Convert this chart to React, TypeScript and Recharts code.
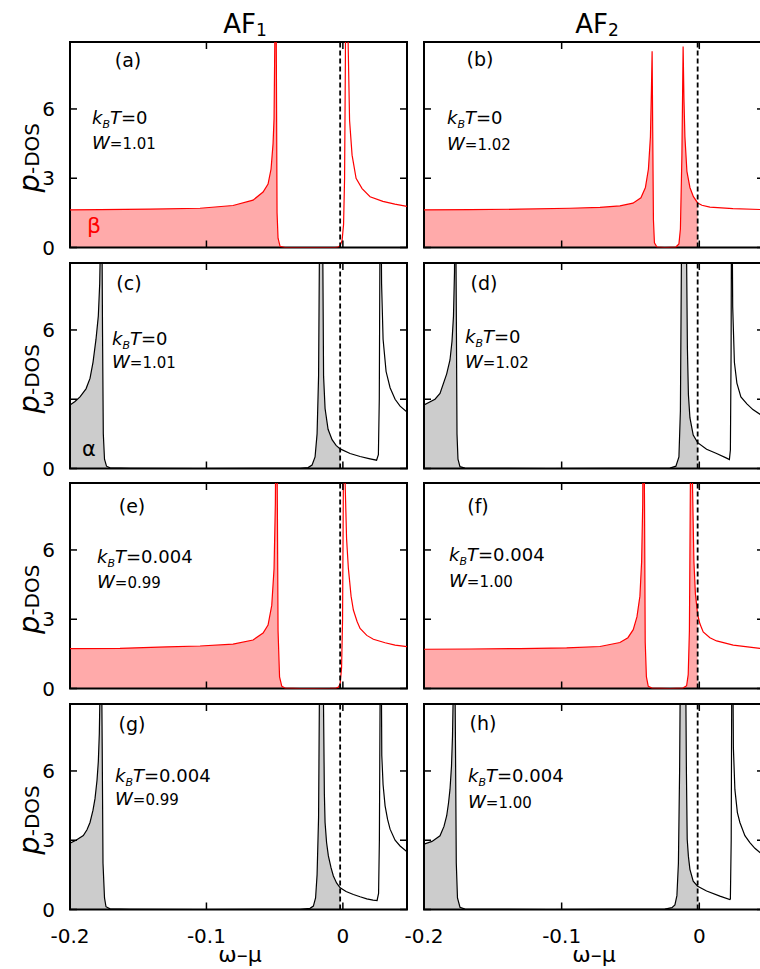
import React from "react";
import {
  Area,
  ComposedChart,
  Line,
  ReferenceArea,
  ReferenceLine,
  XAxis,
  YAxis,
} from "recharts";

const FONT = "'DejaVu Sans', Verdana, sans-serif";

// axes
const X_DOMAIN: [number, number] = [-0.2, 0.047];
const Y_DOMAIN: [number, number] = [0, 8.9];
const X_TICKS = [-0.2, -0.1, 0];
const Y_TICKS = [0, 3, 6];

// chemical potential (dashed line) for each column
const EF_AF1 = -0.002;
const EF_AF2 = -0.0012;

// (a) beta, AF1, kBT = 0
const OMEGA_A = [-0.2, -0.178, -0.14135, -0.10469, -0.0805, -0.06584, -0.0585, -0.05484, -0.05264, -0.05117, -0.05044, -0.0497, -0.04927, -0.04875, -0.04824, -0.04751, -0.04604, -0.04238, -0.02, -0.00572, -0.00352, -0.002, -0.00059, 0.00051, 0.00125, 0.00183, 0.00235, 0.00381, 0.00491, 0.00675, 0.00968, 0.01408, 0.01994, 0.0293, 0.0381, 0.047];
const DOS_A = [1.63, 1.64, 1.66, 1.7, 1.82, 2.05, 2.4, 2.75, 3.4, 4.5, 5.6, 10, 14, 8, 1.5, 0.4, 0.05, 0, 0, 0, 0.02, 0.08, 0.3, 1.0, 3, 8, 14, 9, 5.5, 4.0, 3.0, 2.55, 2.2, 2.0, 1.88, 1.78];

// (b) beta, AF2, kBT = 0
const OMEGA_B = [-0.2, -0.16659, -0.13028, -0.09397, -0.07219, -0.05766, -0.04822, -0.04241, -0.03914, -0.03696, -0.03551, -0.03479, -0.03428, -0.03384, -0.03333, -0.0326, -0.03079, -0.02498, -0.01699, -0.01481, -0.01373, -0.01264, -0.01176, -0.01118, -0.01046, -0.009, -0.00682, -0.00428, -0.0012, 0.00189, 0.0077, 0.0244, 0.047];
const DOS_B = [1.63, 1.64, 1.66, 1.7, 1.74, 1.8, 1.92, 2.15, 2.6, 3.4, 4.8, 6.8, 8.5, 5, 1.2, 0.2, 0.02, 0, 0.02, 0.15, 0.8, 4, 8.7, 6.5, 4.8, 3.3, 2.6, 2.2, 1.93, 1.83, 1.75, 1.68, 1.64];

// (c) alpha, AF1, kBT = 0
const OMEGA_C = [-0.2, -0.19633, -0.19267, -0.18827, -0.18534, -0.18314, -0.18094, -0.17925, -0.17823, -0.17749, -0.17691, -0.17617, -0.17559, -0.17471, -0.17324, -0.17067, -0.15601, -0.10469, -0.03138, -0.02551, -0.02258, -0.02038, -0.01891, -0.01781, -0.01723, -0.01635, -0.01474, -0.01415, -0.01305, -0.01085, -0.00792, -0.00499, -0.002, 0.00528, 0.01261, 0.01994, 0.02471, 0.02603, 0.02669, 0.02713, 0.02764, 0.02837, 0.02947, 0.03167, 0.0346, 0.03827, 0.04194, 0.047];
const DOS_C = [2.75, 2.9, 3.1, 3.45, 3.9, 4.6, 5.6, 6.6, 8, 10.5, 14, 6, 1.5, 0.4, 0.1, 0.03, 0.01, 0, 0.01, 0.04, 0.15, 0.5, 1.5, 4, 9, 14, 9.5, 4.0, 2.6, 1.7, 1.25, 1.0, 0.85, 0.65, 0.52, 0.42, 0.36, 0.6, 3, 9, 14, 8, 5.6, 4.2, 3.5, 3.0, 2.7, 2.45];

// (d) alpha, AF2, kBT = 0
const OMEGA_D = [-0.2, -0.19201, -0.18838, -0.18351, -0.18112, -0.17967, -0.17858, -0.17785, -0.17727, -0.17654, -0.17603, -0.17531, -0.17386, -0.17023, -0.1085, -0.02135, -0.01699, -0.01481, -0.01373, -0.013, -0.01155, -0.00937, -0.00864, -0.00791, -0.00682, -0.00443, -0.0012, 0.0053, 0.01256, 0.01983, 0.02186, 0.02258, 0.02309, 0.02353, 0.02426, 0.02549, 0.0273, 0.03021, 0.03457, 0.03893, 0.04401, 0.047];
const DOS_D = [2.75, 3.0, 3.25, 4.1, 4.7, 5.5, 6.6, 8.5, 14, 7, 1.5, 0.4, 0.08, 0.02, 0, 0.02, 0.1, 0.5, 2.5, 9, 14, 10, 5.2, 3.2, 2.2, 1.45, 1.12, 0.83, 0.65, 0.45, 0.39, 0.8, 5, 14, 7, 4.6, 3.7, 3.1, 2.8, 2.55, 2.35, 2.25];

// (e) beta, AF1, kBT = 0.004
const OMEGA_E = [-0.2, -0.16334, -0.12911, -0.10469, -0.0805, -0.06584, -0.0585, -0.05484, -0.05213, -0.05044, -0.04949, -0.04875, -0.04802, -0.04751, -0.04641, -0.04479, -0.04238, -0.03138, -0.00938, -0.00499, -0.00315, -0.002, -0.00095, -0.00022, 0.00037, 0.00088, 0.00161, 0.00271, 0.00403, 0.00601, 0.0077, 0.01041, 0.01261, 0.01752, 0.02236, 0.03094, 0.03827, 0.047];
const DOS_E = [1.73, 1.74, 1.8, 1.84, 1.92, 2.1, 2.4, 2.75, 3.6, 5.2, 8, 14, 8, 2.5, 0.5, 0.1, 0.02, 0, 0.01, 0.02, 0.06, 0.2, 0.9, 3, 9, 14, 9, 6.5, 5.2, 4.0, 3.4, 2.9, 2.6, 2.3, 2.13, 1.98, 1.88, 1.81];

// (f) beta, AF2, kBT = 0.004
const OMEGA_F = [-0.2, -0.16659, -0.13028, -0.09637, -0.07219, -0.05766, -0.05185, -0.048, -0.04531, -0.04314, -0.0419, -0.0411, -0.04052, -0.0398, -0.03929, -0.03842, -0.03711, -0.03442, -0.02135, -0.01191, -0.00922, -0.00806, -0.00719, -0.00646, -0.00573, -0.00501, -0.00392, -0.00283, -0.0012, 0.00044, 0.00283, 0.0077, 0.01256, 0.02462, 0.04401, 0.047];
const DOS_F = [1.7, 1.71, 1.73, 1.76, 1.82, 1.99, 2.2, 2.55, 3.1, 4.0, 5.5, 8, 14, 8, 2, 0.5, 0.1, 0.02, 0, 0.02, 0.12, 0.6, 2.5, 9, 14, 9, 5.5, 4.1, 3.2, 2.8, 2.45, 2.2, 2.06, 1.88, 1.74, 1.73];

// (g) alpha, AF1, kBT = 0.004
const OMEGA_G = [-0.2, -0.1956, -0.19025, -0.18754, -0.18534, -0.18314, -0.18167, -0.1802, -0.17925, -0.17852, -0.17786, -0.17727, -0.17639, -0.17581, -0.17471, -0.17361, -0.17067, -0.15601, -0.10469, -0.03138, -0.02405, -0.02163, -0.02001, -0.01891, -0.01781, -0.01723, -0.01576, -0.01429, -0.01356, -0.01305, -0.01195, -0.01063, -0.00865, -0.00696, -0.00462, -0.002, 0.00235, 0.0077, 0.01261, 0.01752, 0.02214, 0.02507, 0.02617, 0.02676, 0.02727, 0.02786, 0.02852, 0.02947, 0.03094, 0.03277, 0.0346, 0.03827, 0.04194, 0.047];
const DOS_G = [2.87, 3.0, 3.2, 3.45, 3.77, 4.3, 4.8, 5.6, 6.4, 7.6, 10, 14, 7, 2, 0.5, 0.12, 0.03, 0.01, 0, 0.01, 0.05, 0.15, 0.5, 1.5, 4, 9, 14, 9.5, 5, 3.77, 2.9, 2.32, 1.8, 1.45, 1.15, 0.94, 0.78, 0.65, 0.55, 0.46, 0.41, 0.39, 0.7, 3, 9, 14, 6.67, 5.4, 4.49, 3.9, 3.48, 3.0, 2.75, 2.5];

// (h) alpha, AF2, kBT = 0.004
const OMEGA_H = [-0.2, -0.19419, -0.18838, -0.18548, -0.18351, -0.18221, -0.18112, -0.18003, -0.1793, -0.17872, -0.178, -0.17712, -0.17654, -0.17567, -0.17386, -0.17023, -0.1085, -0.02498, -0.0199, -0.01772, -0.01627, -0.01518, -0.01431, -0.01336, -0.01118, -0.00973, -0.00937, -0.00879, -0.00791, -0.00682, -0.00443, -0.0012, 0.0053, 0.01496, 0.02222, 0.02258, 0.02317, 0.02353, 0.02404, 0.02476, 0.02585, 0.02767, 0.02949, 0.03312, 0.03675, 0.04038, 0.04401, 0.047];
const DOS_H = [2.83, 2.95, 3.19, 3.6, 4.06, 4.6, 5.2, 6.2, 7.5, 9.5, 14, 7, 2, 0.5, 0.1, 0.02, 0, 0.02, 0.08, 0.2, 0.6, 2, 6, 14, 14, 9, 6, 3.04, 2.3, 1.74, 1.23, 1.01, 0.8, 0.58, 0.43, 0.45, 3, 9, 14, 7, 5.2, 4.2, 3.77, 3.2, 2.9, 2.65, 2.47, 2.4];

// layout
const ROW_TOP = [41.7, 262.7, 483.3, 704];
const PLOT_H = 205.5;
const COLS = [
  { left: 70, width: 337, axisW: 70 },
  { left: 424, width: 340, axisW: 34 },
];
const TICK_LEN = 7;

const PANELS = [
  { tag: "(a)", row: 0, col: 0, omega: OMEGA_A, dos: DOS_A, ef: EF_AF1, beta: true, kT: "0", W: "1.01", tagX: 128, tagY: 67, noteX: 92, kTY: 124, wY: 149 },
  { tag: "(b)", row: 0, col: 1, omega: OMEGA_B, dos: DOS_B, ef: EF_AF2, beta: true, kT: "0", W: "1.02", tagX: 480, tagY: 66, noteX: 447, kTY: 124, wY: 150 },
  { tag: "(c)", row: 1, col: 0, omega: OMEGA_C, dos: DOS_C, ef: EF_AF1, beta: false, kT: "0", W: "1.01", tagX: 129, tagY: 290, noteX: 112, kTY: 345, wY: 368 },
  { tag: "(d)", row: 1, col: 1, omega: OMEGA_D, dos: DOS_D, ef: EF_AF2, beta: false, kT: "0", W: "1.02", tagX: 484, tagY: 290, noteX: 465, kTY: 343, wY: 368 },
  { tag: "(e)", row: 2, col: 0, omega: OMEGA_E, dos: DOS_E, ef: EF_AF1, beta: true, kT: "0.004", W: "0.99", tagX: 132, tagY: 513, noteX: 97, kTY: 563, wY: 588 },
  { tag: "(f)", row: 2, col: 1, omega: OMEGA_F, dos: DOS_F, ef: EF_AF2, beta: true, kT: "0.004", W: "1.00", tagX: 478, tagY: 513, noteX: 449, kTY: 561, wY: 587 },
  { tag: "(g)", row: 3, col: 0, omega: OMEGA_G, dos: DOS_G, ef: EF_AF1, beta: false, kT: "0.004", W: "0.99", tagX: 132, tagY: 731, noteX: 115, kTY: 782, wY: 805 },
  { tag: "(h)", row: 3, col: 1, omega: OMEGA_H, dos: DOS_H, ef: EF_AF2, beta: false, kT: "0.004", W: "1.00", tagX: 483, tagY: 730, noteX: 468, kTY: 782, wY: 808 },
];

function XTick(props: any) {
  const { x, y, payload, showLabel } = props;
  const top = y - PLOT_H;
  return (
    <g>
      <line x1={x} x2={x} y1={y} y2={y - TICK_LEN} stroke="#000" strokeWidth={1.5} />
      <line x1={x} x2={x} y1={top} y2={top + TICK_LEN} stroke="#000" strokeWidth={1.5} />
      {showLabel && (
        <text x={x} y={y + 33} textAnchor="middle" fontSize={20} fontFamily={FONT} fill="#000">
          {String(payload.value)}
        </text>
      )}
    </g>
  );
}

function YTick(props: any) {
  const { x, y, payload, showLabel, plotW } = props;
  return (
    <g>
      <line x1={x} x2={x + TICK_LEN} y1={y} y2={y} stroke="#000" strokeWidth={1.5} />
      <line x1={x + plotW - TICK_LEN} x2={x + plotW} y1={y} y2={y} stroke="#000" strokeWidth={1.5} />
      {showLabel && (
        <text x={x - 15} y={y + 7} textAnchor="end" fontSize={20} fontFamily={FONT} fill="#000">
          {String(payload.value)}
        </text>
      )}
    </g>
  );
}

function Panel({ p }: { p: (typeof PANELS)[number] }) {
  const col = COLS[p.col];
  const bottomRow = p.row === 3;
  const xh = bottomRow ? 40 : 14;
  const rows = p.omega.map((w, i) => ({
    w,
    dos: p.dos[i],
    occ: w <= p.ef + 1e-9 ? p.dos[i] : null,
  }));
  const lineColor = p.beta ? "#ff0000" : "#000000";
  const fillColor = p.beta ? "#ffaaaa" : "#cccccc";

  return (
    <div style={{ position: "absolute", left: col.left - col.axisW, top: ROW_TOP[p.row] - 4 }}>
      <ComposedChart
        width={col.axisW + col.width + 6}
        height={4 + PLOT_H + xh + 2}
        data={rows}
        margin={{ top: 4, right: 6, bottom: 2, left: 0 }}
      >
        <XAxis
          dataKey="w"
          type="number"
          domain={X_DOMAIN}
          ticks={X_TICKS}
          allowDataOverflow
          interval={0}
          height={xh}
          tickSize={0}
          tickMargin={0}
          axisLine={false}
          tickLine={false}
          tick={(t: any) => <XTick {...t} showLabel={bottomRow} />}
        />
        <YAxis
          type="number"
          domain={Y_DOMAIN}
          ticks={Y_TICKS}
          allowDataOverflow
          interval={0}
          width={col.axisW}
          tickSize={0}
          tickMargin={0}
          axisLine={false}
          tickLine={false}
          tick={(t: any) => <YTick {...t} showLabel={p.col === 0} plotW={col.width} />}
        />
        <Area
          dataKey="occ"
          type="linear"
          stroke="none"
          fill={fillColor}
          fillOpacity={1}
          connectNulls={false}
          dot={false}
          activeDot={false}
          isAnimationActive={false}
        />
        <Line
          dataKey="dos"
          type="linear"
          stroke={lineColor}
          strokeWidth={1.2}
          dot={false}
          activeDot={false}
          isAnimationActive={false}
        />
        <ReferenceLine x={p.ef} stroke="#000" strokeWidth={1.8} strokeDasharray="5 3" />
        <ReferenceArea
          x1={X_DOMAIN[0]}
          x2={X_DOMAIN[1]}
          y1={Y_DOMAIN[0]}
          y2={Y_DOMAIN[1]}
          fill="none"
          fillOpacity={0}
          stroke="#000"
          strokeWidth={2}
        />
      </ComposedChart>
    </div>
  );
}

function Notes() {
  return (
    <svg
      width={760}
      height={969}
      style={{ position: "absolute", left: 0, top: 0, pointerEvents: "none" }}
      fontFamily={FONT}
    >
      {/* column titles */}
      <text x={245} y={33} textAnchor="middle" fontSize={26}>
        AF<tspan fontSize={17} dy={3}>1</tspan>
      </text>
      <text x={597} y={33} textAnchor="middle" fontSize={26}>
        AF<tspan fontSize={17} dy={3}>2</tspan>
      </text>

      {/* y labels */}
      {ROW_TOP.map((top, i) => (
        <text
          key={`yl-${i}`}
          transform={`translate(39, ${top + 116}) rotate(-90)`}
          textAnchor="middle"
        >
          <tspan fontStyle="italic" fontSize={29}>p</tspan>
          <tspan fontSize={20}>-DOS</tspan>
        </text>
      ))}

      {/* x labels */}
      <text x={240} y={962} textAnchor="middle" fontSize={22}>ω–μ</text>
      <text x={594} y={962} textAnchor="middle" fontSize={22}>ω–μ</text>

      {/* panel notes */}
      {PANELS.map((p) => (
        <g key={p.tag}>
          <text x={p.tagX} y={p.tagY} textAnchor="middle" fontSize={19}>{p.tag}</text>
          <text x={p.noteX} y={p.kTY} fontSize={18}>
            <tspan fontStyle="italic">k</tspan>
            <tspan fontStyle="italic" fontSize={11} dy={4}>B</tspan>
            <tspan fontStyle="italic" dy={-4}>T</tspan>
            <tspan>={p.kT}</tspan>
          </text>
          <text x={p.noteX} y={p.wY} fontSize={18}>
            <tspan fontStyle="italic">W</tspan>
            <tspan fontSize={15}>={p.W}</tspan>
          </text>
        </g>
      ))}

      <text x={87} y={233} fontSize={22} fill="#ff0000">β</text>
      <text x={82} y={456} fontSize={21} fill="#000">α</text>
    </svg>
  );
}

export default function App() {
  return (
    <div
      style={{
        position: "absolute",
        left: 0,
        top: 0,
        width: 760,
        height: 969,
        overflow: "hidden",
        background: "#fff",
        fontFamily: FONT,
      }}
    >
      {PANELS.map((p) => (
        <Panel key={p.tag} p={p} />
      ))}
      <Notes />
    </div>
  );
}
